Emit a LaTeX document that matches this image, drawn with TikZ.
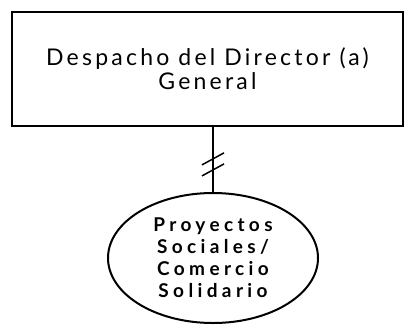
\documentclass[tikz,border=0pt]{standalone}
\usepackage{fontspec}
\setmainfont{Lato}
\usetikzlibrary{shapes.geometric, calc}

\begin{document}
\begin{tikzpicture}[
    x=1pt, y=-1pt,
    officeBox/.style={rectangle, draw=black, line width=2pt, minimum width=391pt, minimum height=114pt, align=center, font=\fontsize{23}{24}\selectfont\addfontfeatures{LetterSpace=14}},
    unitEllipse/.style={ellipse, draw=black, line width=2pt, minimum width=210pt, minimum height=130pt, inner sep=0pt, align=center, font=\bfseries\fontsize{19}{22}\selectfont\addfontfeatures{LetterSpace=23}},
    link/.style={line width=2pt},
    tick/.style={line width=1.5pt}
]
    \useasboundingbox (0,0) rectangle (404,325);

    % --- DIRECTION ---
    \node[officeBox] (direccion) at (207.5, 69) {Despacho del Director (a)\\General};

    % --- UNIT ---
    \node[unitEllipse] (proyectos) at (213, 258) {Proyectos\\Sociales/\\Comercio\\Solidario};

    % Connector with double slash
    \draw[link] (proyectos.north) -- (proyectos.north |- direccion.south)
        coordinate[pos=0.34] (tickA)
        coordinate[pos=0.51] (tickB);
    \draw[tick] ($(tickA)+(-11,6)$) -- ($(tickA)+(11,-6)$);
    \draw[tick] ($(tickB)+(-11,6)$) -- ($(tickB)+(11,-6)$);

\end{tikzpicture}
\end{document}
